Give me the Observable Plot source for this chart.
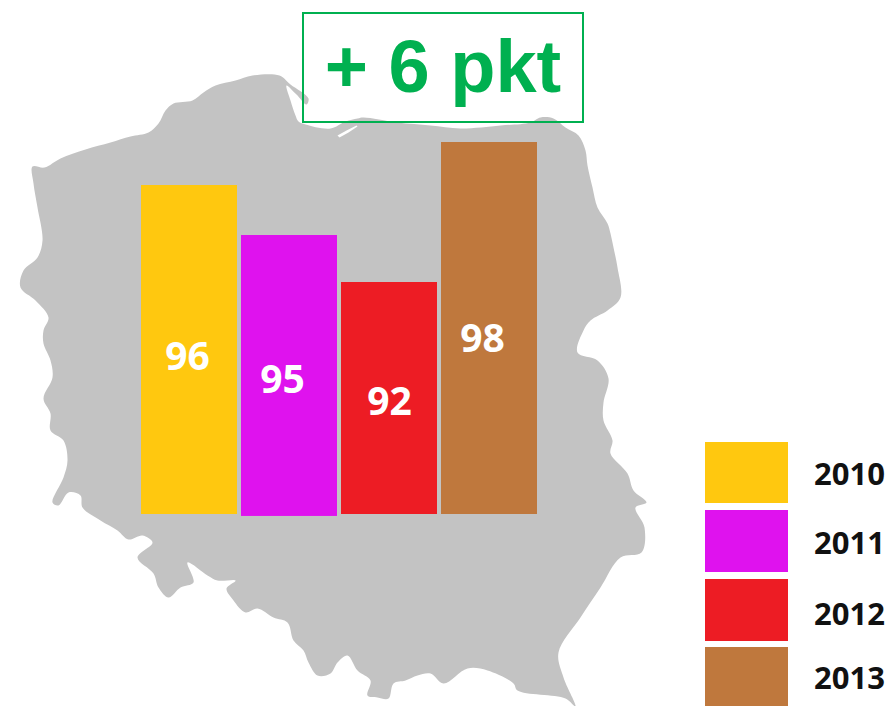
<!DOCTYPE html>
<html>
<head>
<meta charset="utf-8">
<script src="https://cdn.jsdelivr.net/npm/d3@7"></script>
<script src="https://cdn.jsdelivr.net/npm/@observablehq/plot@0.6"></script>
<style>
  html, body { margin: 0; padding: 0; background: #fff; overflow: hidden; }
  #stage { position: relative; width: 890px; height: 706px; overflow: hidden; }
  #stage svg { position: absolute; left: 0; top: 0; }
  .box { position: absolute; left: 302px; top: 12px; width: 278px; height: 107px; border: 2px solid #00b050;
         font: bold 74px "Liberation Sans", Arial, sans-serif; color: #00b050; text-align: center; line-height: 106px; white-space: pre; }
  .swatch { position: absolute; left: 705px; width: 83px; }
  .key { position: absolute; left: 814px; font: bold 31px "Open Sans", sans-serif; color: #111; line-height: 40px; }
</style>
</head>
<body>
<div id="stage"></div>
<script>
const years = ["2010", "2011", "2012", "2013"];
const points = [96, 95, 92, 98];
const colors = ["#ffc80f", "#df12ee", "#ed1c24", "#bf783d"];
const headline = "+ 6 pkt";

// The drawn bars are not proportional: the picture's axis is read as piecewise.
const axisValues = [80, 92, 95, 96, 98];
const axisPixels = [514, 282, 235, 185, 142];
const barFloors = [80, 79.9, 80, 80];
const labelLevels = [88.12, 86.93, 85.79, 89.05];
const labelNudges = [-2, -7, 0, -7];

const legendTops = [442, 510, 579, 647];
const legendHeights = [61, 62, 62, 59];
const legendKeyTops = [453, 522, 593, 657];

// Outline of Poland, clockwise from the north-west.
const outline = [
  [32,166],[44,167],[60,158],[85,149],[110,142],[130,136],[148,132],[158,123],[165,110],[173,103],
  [192,100],[203,92],[215,85],[235,80],[252,75],[279,75],[290,84],[308,98],[306,104],[296,94],[286,85],
  [290,100],[295,115],[298,121],[305,124],[330,128],[345,121],[357,118],[363,117],[397,122],[430,125],[460,128],
  [500,125],[530,122],[540,117],[553,118],[565,127],[578,135],[585,150],[587,165],[592,187],[597,207],
  [607,223],[610,233],[613,247],[617,267],[620,297],[607,310],[590,320],[583,330],[577,352],[597,360],
  [608,378],[603,402],[603,420],[612,440],[610,453],[627,473],[633,490],[646,502],[635,507],[644,527],
  [641,552],[620,557],[600,587],[580,617],[558,652],[563,677],[575,706],[565,698],[517,690],[513,683],
  [487,670],[467,668],[443,683],[430,673],[417,675],[405,680],[393,683],[388,698],[377,697],[367,695],
  [370,680],[357,670],[347,655],[337,662],[330,673],[317,675],[308,662],[303,650],[293,640],[287,622],
  [273,617],[257,608],[245,612],[233,600],[226,588],[235,580],[217,580],[207,575],[187,562],[193,582],
  [180,587],[168,597],[158,587],[153,573],[137,557],[152,542],[142,535],[128,539],[117,530],[100,520],
  [82,507],[80,495],[68,492],[58,505],[52,502],[63,477],[67,460],[63,440],[50,430],[50,413],[43,398],
  [52,377],[50,360],[43,343],[43,330],[48,317],[35,300],[20,287],[23,270],[37,257],[42,240],[37,207],[33,183]
];
const lagoon = [[337,135],[346,130],[356,125],[357,126],[348,132],[339,137]];

const table = years.map((year, i) => ({year, value: points[i], floor: barFloors[i], level: labelLevels[i], color: colors[i]}));
const stage = document.getElementById("stage");

const mapPlot = Plot.plot({
  width: 890, height: 706, margin: 0,
  x: {domain: [0, 890], range: [0, 890], axis: null},
  y: {domain: [0, 706], range: [0, 706], axis: null},
  style: {background: "#fff"},
  marks: [
    Plot.line(outline, {x: d => d[0], y: d => d[1], curve: "catmull-rom-closed", fill: "#c3c3c3", stroke: "none", style: "filter: blur(1px)"}),
    Plot.line(lagoon, {x: d => d[0], y: d => d[1], fill: "#fff", stroke: "none"})
  ]
});
stage.appendChild(mapPlot);

const barPlot = Plot.plot({
  width: 890, height: 706, margin: 0,
  x: {type: "band", domain: years, range: [141, 537], paddingInner: 0.04, paddingOuter: 0, axis: null},
  y: {type: "linear", domain: axisValues, range: axisPixels, axis: null},
  color: {domain: years, range: colors},
  style: {background: "transparent"},
  marks: [
    Plot.barY(table, {x: "year", y1: "floor", y2: "value", fill: "year"}),
    ...table.map((d, i) => Plot.text([d], {
      x: "year", y: "level", text: "value", dx: labelNudges[i],
      fill: "#fff", fontSize: 39, fontWeight: 700, fontFamily: "Open Sans"
    }))
  ]
});
stage.appendChild(barPlot);

const box = document.createElement("div");
box.className = "box";
box.textContent = headline;
stage.appendChild(box);

years.forEach((year, i) => {
  const s = document.createElement("div");
  s.className = "swatch";
  s.style.top = legendTops[i] + "px";
  s.style.height = legendHeights[i] + "px";
  s.style.background = colors[i];
  stage.appendChild(s);
  const k = document.createElement("div");
  k.className = "key";
  k.style.top = legendKeyTops[i] + "px";
  k.textContent = year;
  stage.appendChild(k);
});
</script>
</body>
</html>
